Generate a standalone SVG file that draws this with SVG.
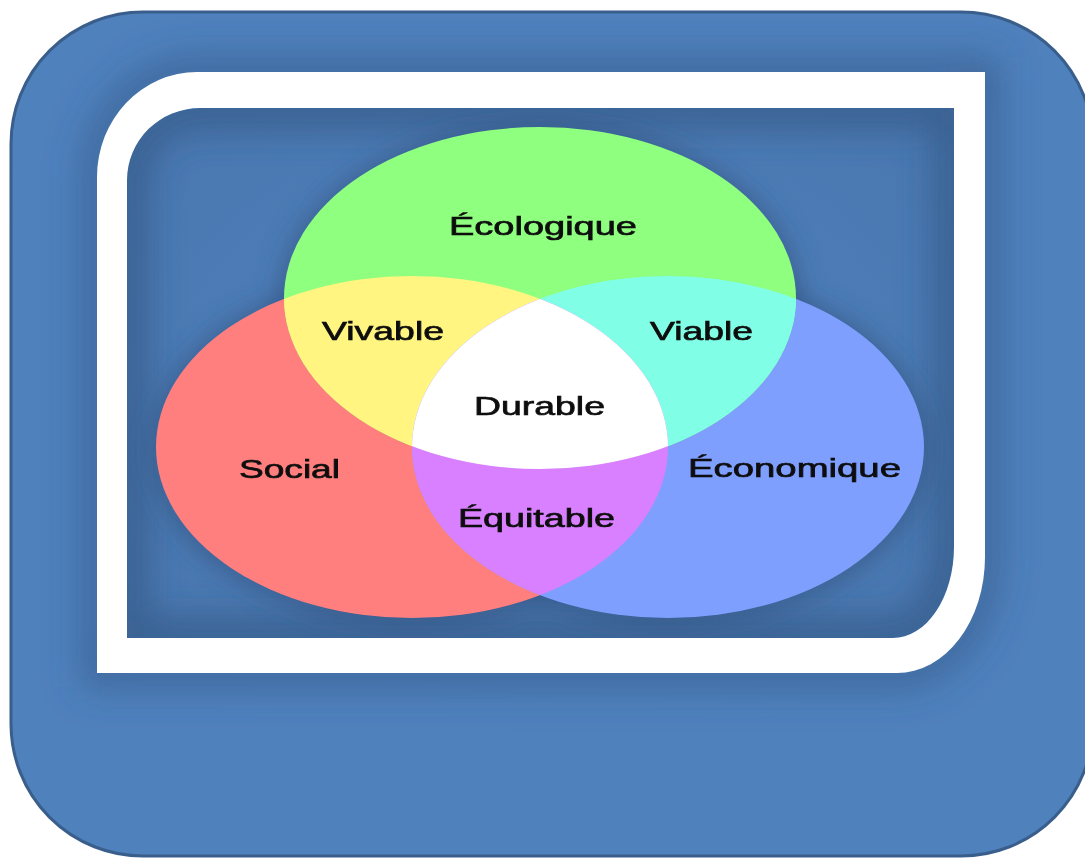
<svg xmlns="http://www.w3.org/2000/svg" width="1085" height="858" viewBox="0 0 1085 858">
  <defs>
    <style>
      .lbl { font-family: "Liberation Sans", Arial, sans-serif; font-size: 26px; fill: #101010; stroke: #101010; stroke-width: 0.7px; }
    </style>
    <filter id="blur20" x="-20%" y="-20%" width="140%" height="140%">
      <feGaussianBlur stdDeviation="18"/>
    </filter>
    <filter id="blur12" x="-20%" y="-20%" width="140%" height="140%">
      <feGaussianBlur stdDeviation="12"/>
    </filter>
    <filter id="soft" x="-5%" y="-5%" width="110%" height="110%">
      <feGaussianBlur stdDeviation="0.6"/>
    </filter>
    <clipPath id="innerClip">
      <path d="M127 638 L127 180 A73 72 0 0 1 200 108 L954 108 L954 547 A61 91 0 0 1 893 638 Z"/>
    </clipPath>
    <clipPath id="outerClip">
      <rect x="11" y="12" width="1082" height="844" rx="132" ry="132"/>
    </clipPath>
    <clipPath id="cG"><ellipse cx="540" cy="298" rx="256" ry="171"/></clipPath>
    <clipPath id="cR"><ellipse cx="412" cy="447" rx="256" ry="171"/></clipPath>
    <clipPath id="cB"><ellipse cx="668" cy="447" rx="256" ry="171"/></clipPath>
    <radialGradient id="innerGrad" cx="0.5" cy="0.5" r="0.6">
      <stop offset="0" stop-color="#4F81BD"/>
      <stop offset="1" stop-color="#4A78B1"/>
    </radialGradient>
  </defs>

  <!-- outer panel -->
  <g id="panel">
    <rect x="11" y="12" width="1082" height="844" rx="132" ry="132" fill="#4F81BD" stroke="#3A5E8C" stroke-width="3"/>
    <g clip-path="url(#outerClip)">
      <path d="M97 672 L97 177 A100 105 0 0 1 197 72 L985 72 L985 557 A88 116 0 0 1 897 673 Z" fill="none" stroke="#2E4F7C" stroke-opacity="0.55" stroke-width="30" filter="url(#blur20)"/>
    </g>
  </g>

  <!-- inner area -->
  <g id="inner">
    <path d="M127 638 L127 180 A73 72 0 0 1 200 108 L954 108 L954 547 A61 91 0 0 1 893 638 Z" fill="url(#innerGrad)"/>
    <g clip-path="url(#innerClip)">
      <path d="M127 638 L127 180 A73 72 0 0 1 200 108 L954 108 L954 547 A61 91 0 0 1 893 638 Z" fill="none" stroke="#2E4F7C" stroke-opacity="0.6" stroke-width="40" filter="url(#blur20)"/>
      <g filter="url(#blur12)" fill="#2E4F7C" fill-opacity="0.55">
        <ellipse cx="540" cy="300" rx="262" ry="177"/>
        <ellipse cx="412" cy="449" rx="262" ry="177"/>
        <ellipse cx="668" cy="449" rx="262" ry="177"/>
      </g>
    </g>
  </g>

  <!-- white frame -->
  <g id="frame">
    <path fill-rule="evenodd" fill="#FFFFFF" d="M97 673 L97 177 A100 105 0 0 1 197 72 L985 72 L985 557 A88 116 0 0 1 897 673 Z M127 638 L127 180 A73 72 0 0 1 200 108 L954 108 L954 547 A61 91 0 0 1 893 638 Z"/>
  </g>

  <!-- Venn diagram -->
  <g id="venn">
    <g id="social-set"><ellipse cx="412" cy="447" rx="256" ry="171" fill="#FF7F7F"/></g>
    <g id="economique-set"><ellipse cx="668" cy="447" rx="256" ry="171" fill="#7F9FFF"/></g>
    <g id="ecologique-set"><ellipse cx="540" cy="298" rx="256" ry="171" fill="#8FFF7F"/></g>
    <g id="vivable-region" clip-path="url(#cG)"><ellipse cx="412" cy="447" rx="256" ry="171" fill="#FFF580"/></g>
    <g id="viable-region" clip-path="url(#cG)"><ellipse cx="668" cy="447" rx="256" ry="171" fill="#80FFE6"/></g>
    <g id="equitable-region" clip-path="url(#cB)"><ellipse cx="412" cy="447" rx="256" ry="171" fill="#D880FF"/></g>
    <g id="durable-region" clip-path="url(#cG)">
      <g clip-path="url(#cB)"><ellipse cx="412" cy="447" rx="256" ry="171" fill="#FFFFFF"/></g>
    </g>
  </g>

  <!-- labels -->
  <g id="labels" filter="url(#soft)">
    <text class="lbl" x="449" y="235" textLength="188" lengthAdjust="spacingAndGlyphs">Écologique</text>
    <text class="lbl" x="322" y="340" textLength="122" lengthAdjust="spacingAndGlyphs">Vivable</text>
    <text class="lbl" x="650" y="340" textLength="103" lengthAdjust="spacingAndGlyphs">Viable</text>
    <text class="lbl" x="474" y="415" textLength="131" lengthAdjust="spacingAndGlyphs">Durable</text>
    <text class="lbl" x="239" y="478" textLength="101" lengthAdjust="spacingAndGlyphs">Social</text>
    <text class="lbl" x="688" y="477" textLength="213" lengthAdjust="spacingAndGlyphs">Économique</text>
    <text class="lbl" x="458" y="527" textLength="157" lengthAdjust="spacingAndGlyphs">Équitable</text>
  </g>
</svg>
